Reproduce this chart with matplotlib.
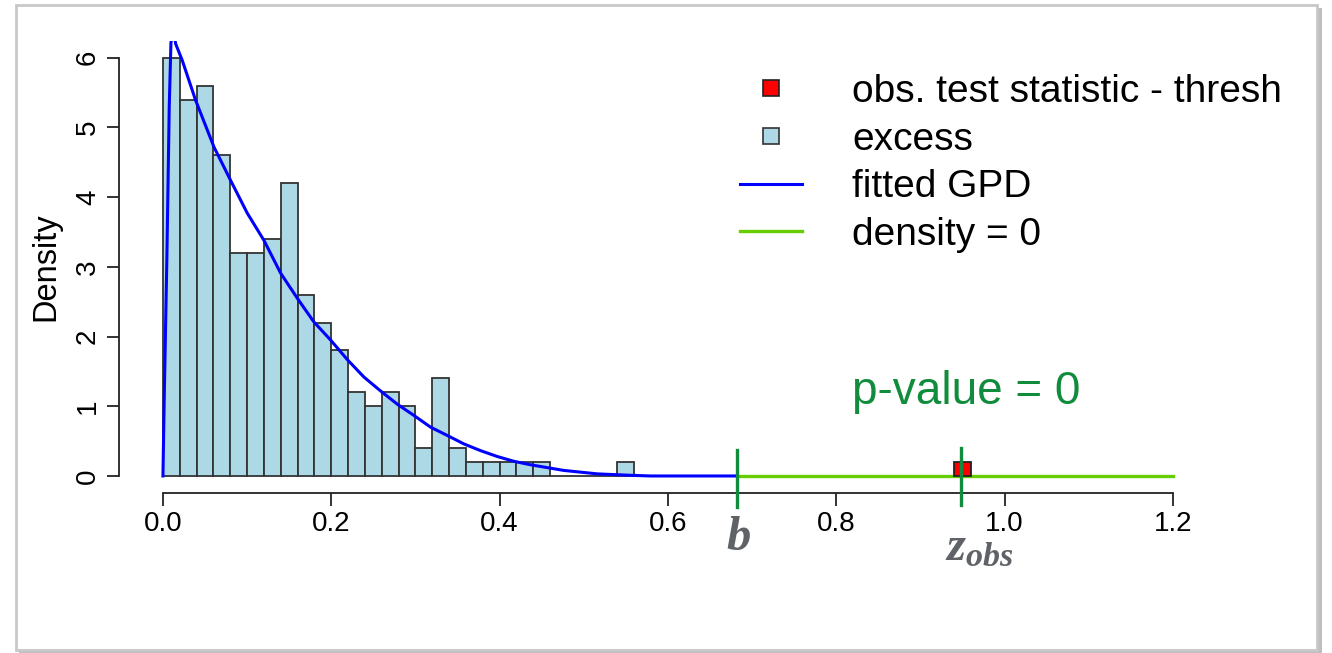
import matplotlib
matplotlib.use("Agg")
import matplotlib.pyplot as plt
from matplotlib.patches import Rectangle
from matplotlib.lines import Line2D

plt.rcParams['font.family'] = ['Liberation Sans', 'DejaVu Sans']
plt.rcParams['mathtext.fontset'] = 'custom'
plt.rcParams['mathtext.it'] = 'Liberation Serif:italic:bold'
plt.rcParams['mathtext.rm'] = 'Liberation Serif:bold'

# ---- data ----
bin_left = [0.00, 0.02, 0.04, 0.06, 0.08, 0.10, 0.12, 0.14, 0.16, 0.18,
            0.20, 0.22, 0.24, 0.26, 0.28, 0.30, 0.32, 0.34, 0.36, 0.38,
            0.40, 0.42, 0.44, 0.46, 0.48, 0.50, 0.52, 0.54]
bin_width = 0.02
excess_density = [6.0, 5.4, 5.6, 4.6, 3.2, 3.2, 3.4, 4.2, 2.6, 2.2,
                  1.8, 1.2, 1.0, 1.2, 1.0, 0.4, 1.4, 0.4, 0.2, 0.2,
                  0.2, 0.2, 0.2, 0.0, 0.0, 0.0, 0.0, 0.2]

gpd_x = [0.000, 0.0015, 0.0047, 0.0075, 0.0095, 0.012, 0.0151, 0.0230,
         0.0388, 0.0606, 0.0804, 0.1002, 0.120, 0.1398, 0.1596, 0.1793,
         0.1992, 0.219, 0.2387, 0.2585, 0.2784, 0.298, 0.318, 0.338,
         0.3575, 0.377, 0.397, 0.417, 0.437, 0.476, 0.516, 0.555, 0.579,
         0.6825]
gpd_y = [0.00, 1.09, 3.15, 5.30, 6.21, 6.45, 6.20, 5.96,
         5.39, 4.72, 4.24, 3.77, 3.38, 2.91, 2.55, 2.21,
         1.95, 1.67, 1.42, 1.22, 1.03, 0.87, 0.70, 0.58,
         0.46, 0.365, 0.28, 0.21, 0.16, 0.08, 0.03, 0.01, 0.00,
         0.00]

b_value = 0.6825
z_obs = 0.948
obs_bin_left = [0.94]
obs_density = [0.2]
zero_x = [b_value, 1.2]
zero_y = [0.0, 0.0]

x_ticks = [0.0, 0.2, 0.4, 0.6, 0.8, 1.0, 1.2]
x_ticklabels = ['0.0', '0.2', '0.4', '0.6', '0.8', '1.0', '1.2']
y_ticks = [0, 1, 2, 3, 4, 5, 6]

# ---- figure ----
W, H = 1332, 653
fig = plt.figure(figsize=(W / 100, H / 100), dpi=100)

def fx(px):
    return px / W

def fy(py):
    return 1 - py / H

# slide frame with shadow (behind everything)
fig.patches.append(Rectangle((fx(19), fy(653)), fx(1303), 645 / H,
                             transform=fig.transFigure, facecolor='#bdbdbd',
                             edgecolor='none', zorder=-3))
fig.patches.append(Rectangle((fx(16), fy(650)), fx(1301), 645 / H,
                             transform=fig.transFigure, facecolor='white',
                             edgecolor='#c8c8c8', linewidth=2, zorder=-2))

ax_left, ax_right, ax_top, ax_bottom = 119, 1213, 41, 492.7
ax = fig.add_axes([fx(ax_left), fy(ax_bottom), fx(ax_right - ax_left),
                   (ax_bottom - ax_top) / H])
ax.patch.set_visible(False)

ax.bar(bin_left, excess_density, width=bin_width, align='edge',
       color='#ADD8E6', edgecolor='#333333', linewidth=1.3, zorder=2)
ax.plot(zero_x, zero_y, color='#66CD00', linewidth=2.4, zorder=3)
ax.plot(gpd_x, gpd_y, color='#0000FF', linewidth=2.2, zorder=4)
ax.bar(obs_bin_left, obs_density, width=bin_width, align='edge',
       color='#FF0000', edgecolor='#222222', linewidth=1.3, zorder=5)

dark_green = '#118C3C'
ax.plot([b_value, b_value], [-0.44, 0.37], color=dark_green, linewidth=2.4,
        clip_on=False, zorder=6)
ax.plot([z_obs, z_obs], [-0.41, 0.40], color=dark_green, linewidth=2.4,
        clip_on=False, zorder=6)

ax.set_xlim(-0.0522, 1.2475)
ax.set_ylim(-0.24, 6.24)

for s in ['top', 'right']:
    ax.spines[s].set_visible(False)
ax.spines['bottom'].set_bounds(0, 1.2)
ax.spines['left'].set_bounds(0, 6)
for s in ['bottom', 'left']:
    ax.spines[s].set_linewidth(1.3)
    ax.spines[s].set_color('#222222')

ax.set_xticks(x_ticks)
ax.set_xticklabels(x_ticklabels)
ax.set_yticks(y_ticks)
ax.set_yticklabels([str(v) for v in y_ticks], rotation=90, va='center')
ax.tick_params(axis='both', length=9, width=1.3, color='#222222',
               labelsize=20, pad=4)
ax.set_ylabel('Density', fontsize=23.5, labelpad=10)

# legend
handles = [
    Line2D([], [], linestyle='none', marker='s', markersize=11,
           markerfacecolor='#FF0000', markeredgecolor='#222222', markeredgewidth=1.2),
    Line2D([], [], linestyle='none', marker='s', markersize=11,
           markerfacecolor='#ADD8E6', markeredgecolor='#333333', markeredgewidth=1.2),
    Line2D([], [], color='#0000FF', linewidth=2.2),
    Line2D([], [], color='#66CD00', linewidth=2.4),
]
labels = ['obs. test statistic - thresh', 'excess', 'fitted GPD', 'density = 0']
fig.legend(handles, labels, loc='upper left',
           bbox_to_anchor=(fx(740), fy(74)), frameon=False, fontsize=28,
           handlelength=1.6, handletextpad=1.29, labelspacing=0.30,
           borderpad=0, borderaxespad=0)

fig.text(fx(852), fy(392), 'p-value = 0', color=dark_green, fontsize=33,
         ha='left', va='center')

label_gray = '#5f6368'
fig.text(fx(738), fy(537), r'$b$', color=label_gray, fontsize=35,
         ha='center', va='center')
fig.text(fx(945), fy(548), r'$z_{obs}$', color=label_gray, fontsize=35,
         ha='left', va='center')

fig.savefig('out.png', dpi=100)
